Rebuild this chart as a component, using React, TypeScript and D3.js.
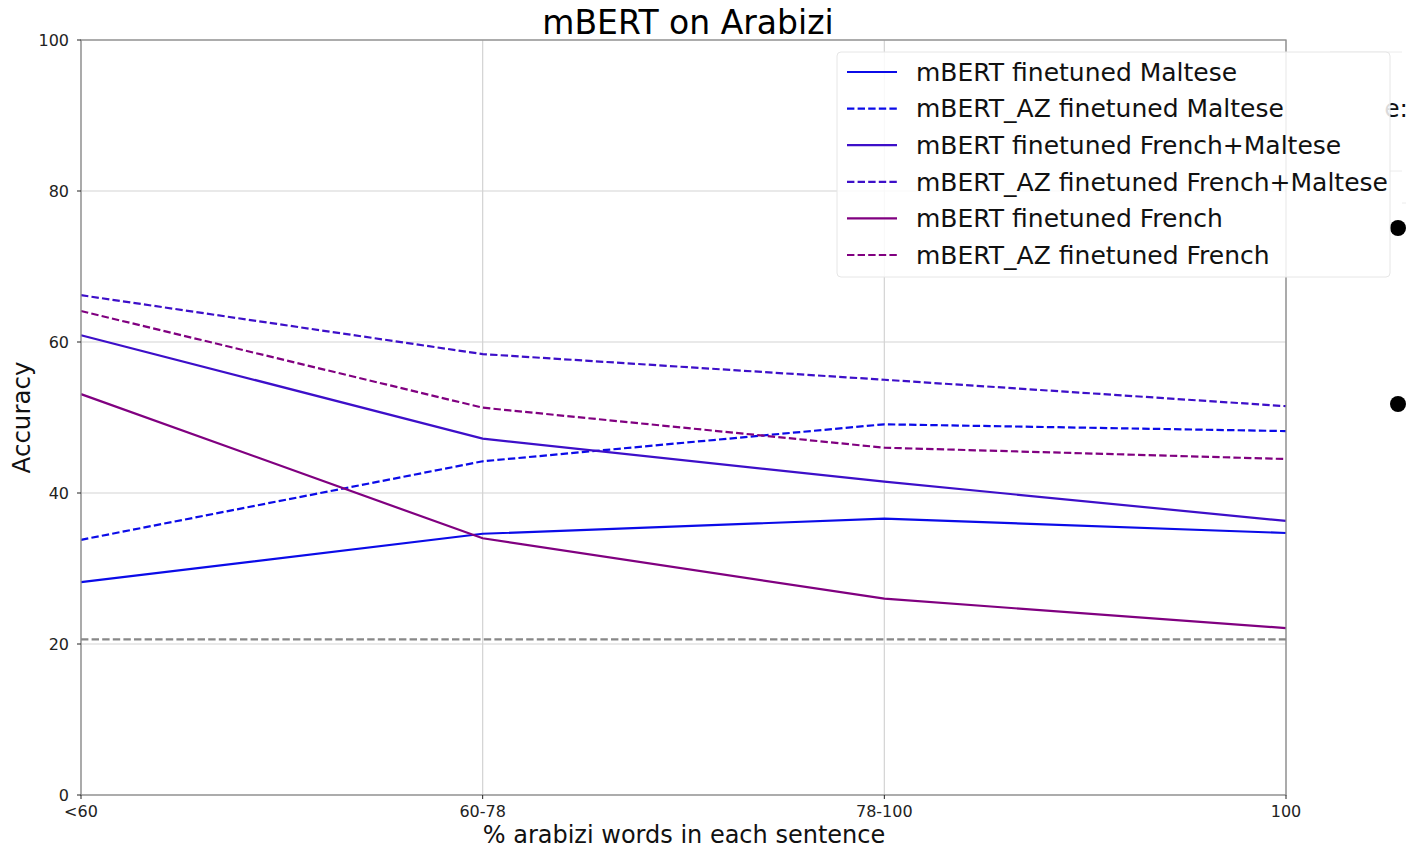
import React from "react";
import * as d3 from "d3";

// Buckets of "% arabizi words in each sentence"
const categories = ["<60", "60-78", "78-100", "100"];

// Accuracy per bucket
const mbertMaltese = [28.2, 34.6, 36.6, 34.7];
const mbertAzMaltese = [33.8, 44.2, 49.1, 48.2];
const mbertFrMaltese = [60.9, 47.2, 41.5, 36.3];
const mbertAzFrMaltese = [66.2, 58.4, 55.0, 51.5];
const mbertFrench = [53.1, 34.0, 26.0, 22.1];
const mbertAzFrench = [64.1, 51.3, 46.0, 44.5];

// Majority-class baseline
const baseline = 20.6;

const yTicks = [0, 20, 40, 60, 80, 100];

const seriesNames = [
  "mBERT finetuned Maltese",
  "mBERT_AZ finetuned Maltese",
  "mBERT finetuned French+Maltese",
  "mBERT_AZ finetuned French+Maltese",
  "mBERT finetuned French",
  "mBERT_AZ finetuned French",
];
const seriesValues = [
  mbertMaltese,
  mbertAzMaltese,
  mbertFrMaltese,
  mbertAzFrMaltese,
  mbertFrench,
  mbertAzFrench,
];
const seriesColors = ["#0b0be8", "#0b0be8", "#3d0fc9", "#3d0fc9", "#800080", "#800080"];
const seriesDashed = [false, true, false, true, false, true];

const W = 1406;
const H = 847;
const FONT = "DejaVu Sans, sans-serif";

export default function App() {
  const left = 81;
  const right = 1286;
  const top = 40;
  const bottom = 795;

  const x = d3
    .scalePoint<string>()
    .domain(categories)
    .range([left, right])
    .padding(0);
  const y = d3.scaleLinear().domain([0, 100]).range([bottom, top]);

  const line = d3
    .line<number>()
    .x((_, i) => x(categories[i]) as number)
    .y((d) => y(d));

  const dash = "7.4,3.2";

  const legX = 837;
  const legY = 52;
  const legW = 553;
  const legH = 225;
  const rowH = 36.6;

  return (
    <svg
      width={W}
      height={H}
      style={{ position: "absolute", left: 0, top: 0, background: "#fff" }}
      fontFamily={FONT}
    >
      {/* gridlines */}
      {yTicks.map((t) => (
        <line key={"gy" + t} x1={left} x2={right} y1={y(t)} y2={y(t)} stroke="#d3d3d3" strokeWidth={1.2} />
      ))}
      {categories.map((c) => (
        <line key={"gx" + c} x1={x(c)} x2={x(c)} y1={top} y2={bottom} stroke="#d3d3d3" strokeWidth={1.2} />
      ))}

      {/* baseline */}
      <line
        x1={left}
        x2={right}
        y1={y(baseline)}
        y2={y(baseline)}
        stroke="#888"
        strokeWidth={2.2}
        strokeDasharray={dash}
      />

      {/* series */}
      {seriesValues.map((vals, i) => (
        <path
          key={"s" + i}
          d={line(vals) as string}
          fill="none"
          stroke={seriesColors[i]}
          strokeWidth={2.2}
          strokeDasharray={seriesDashed[i] ? dash : undefined}
        />
      ))}

      {/* spines */}
      <rect x={left} y={top} width={right - left} height={bottom - top} fill="none" stroke="#8c8c8c" strokeWidth={1.3} />

      {/* y ticks */}
      {yTicks.map((t) => (
        <g key={"ty" + t}>
          <line x1={left - 4} x2={left} y1={y(t)} y2={y(t)} stroke="#222" strokeWidth={1} />
          <text x={left - 12} y={y(t)} dy="0.35em" textAnchor="end" fontSize={16} fill="#222">
            {t}
          </text>
        </g>
      ))}
      {/* x ticks */}
      {categories.map((c) => (
        <g key={"tx" + c}>
          <line x1={x(c)} x2={x(c)} y1={bottom} y2={bottom + 4} stroke="#222" strokeWidth={1} />
          <text x={x(c)} y={bottom + 22} textAnchor="middle" fontSize={16} fill="#222">
            {c}
          </text>
        </g>
      ))}

      {/* titles */}
      <text x={688} y={34} textAnchor="middle" fontSize={33} fill="#000">
        mBERT on Arabizi
      </text>
      <text x={684} y={843} textAnchor="middle" fontSize={24} fill="#111">
        % arabizi words in each sentence
      </text>
      <text
        transform={`translate(30, ${(top + bottom) / 2}) rotate(-90)`}
        textAnchor="middle"
        fontSize={24.5}
        fill="#111"
      >
        Accuracy
      </text>

      {/* second legend panel, mostly hidden behind the first */}
      <line x1={1330} x2={1402} y1={52} y2={52} stroke="#ececec" strokeWidth={1} />
      <line x1={1390} x2={1402} y1={171} y2={171} stroke="#ececec" strokeWidth={1} />
      <line x1={1402} x2={1406} y1={203} y2={203} stroke="#ececec" strokeWidth={1} />
      <text x={1408} y={117} textAnchor="end" fontSize={25} fill="#111">
        e:
      </text>
      <circle cx={1398} cy={228} r={8} fill="#000" />
      <circle cx={1398} cy={404} r={8} fill="#000" />

      {/* legend */}
      <rect
        x={legX}
        y={legY}
        width={legW}
        height={legH}
        rx={4}
        fill="#fff"
        fillOpacity={0.85}
        stroke="#e6e6e6"
        strokeWidth={1}
      />
      {seriesNames.map((name, i) => {
        const cy = legY + 20 + i * rowH;
        return (
          <g key={"l" + i}>
            <line
              x1={legX + 10}
              x2={legX + 60}
              y1={cy}
              y2={cy}
              stroke={seriesColors[i]}
              strokeWidth={2.2}
              strokeDasharray={seriesDashed[i] ? dash : undefined}
            />
            <text x={legX + 79} y={cy} dy="0.35em" fontSize={25} fill="#111">
              {name}
            </text>
          </g>
        );
      })}
    </svg>
  );
}
